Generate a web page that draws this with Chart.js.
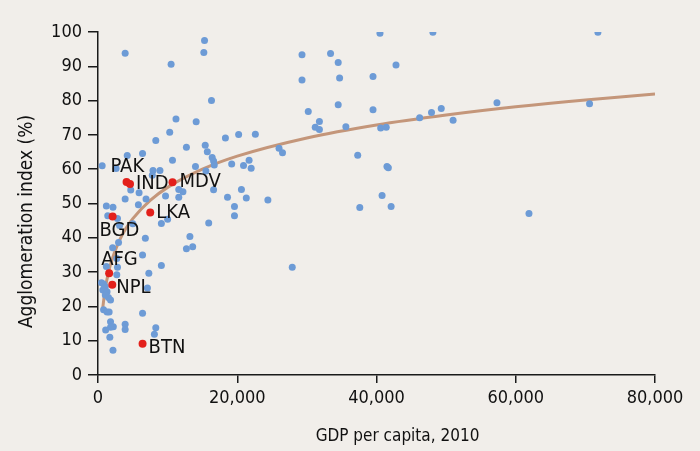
<!DOCTYPE html>
<html>
<head>
<meta charset="utf-8">
<title>Agglomeration index vs GDP per capita</title>
<script src="https://cdn.jsdelivr.net/npm/chart.js@4/dist/chart.umd.min.js"></script>
<style>
  body { margin: 0; background: #f1eeea; }
  #chart-wrap { width: 700px; height: 451px; }
</style>
</head>
<body>
<div id="chart-wrap">
  <canvas id="my-chart" width="700" height="451"></canvas>
</div>
<script>
'use strict';

// *********** DATA ****************

// other countries (GDP per capita, agglomeration index %)
let blueGdp = [
  3900, 15300, 15200, 10500, 16300, 11200, 14100, 10300, 8300, 12700,
  18300, 20200, 22600, 4200, 6400, 600, 2600, 10700, 15400, 15700,
  16400, 16600, 16700, 14000, 19200, 20900, 21700, 22000, 7900, 8900,
  7800, 15500, 4700, 5900, 12200, 11600, 9700, 11600, 16600, 18600,
  20600, 21300, 19600, 19600, 3900, 6900, 1200, 2150, 5800, 1400,
  2800, 5000, 3100, 9100, 10000, 15900, 6800, 13200, 13600, 12700,
  2950, 2100, 6400, 9100, 1200, 2800, 2700, 2700, 7300, 500,
  800, 1050, 700, 1300, 1050, 1500, 1800, 7100, 800, 1300,
  1600, 6400, 1800, 2200, 1800, 1100, 3900, 3900, 8300, 8100,
  1700, 2150,
  29300, 33400, 34500, 40500, 48100, 42800, 29300, 34700, 39500, 34500,
  39500, 30200, 31800, 31200, 31800, 35600, 40600, 41400, 46200, 47900,
  49300, 51000, 57300, 70600, 71800, 26000, 26500, 37300, 41500, 41700,
  24400, 40800, 37600, 42100, 27900, 61900
];
let blueAgg = [
  93.8, 97.5, 94.0, 90.6, 80.0, 74.6, 73.8, 70.8, 68.4, 66.4,
  69.1, 70.1, 70.2, 64.0, 64.6, 61.0, 60.2, 62.6, 67.0, 65.1,
  63.4, 62.4, 61.2, 60.8, 61.5, 61.1, 62.6, 60.3, 59.6, 59.6,
  58.2, 59.5, 53.9, 53.1, 53.4, 54.1, 52.2, 51.8, 54.0, 51.8,
  54.1, 51.6, 49.1, 46.4, 51.3, 51.3, 49.3, 48.9, 49.6, 46.4,
  45.6, 44.1, 43.6, 44.2, 45.4, 44.3, 39.9, 40.4, 37.4, 36.8,
  38.6, 37.1, 35.0, 31.9, 31.6, 31.4, 34.0, 29.2, 29.7, 26.9,
  26.5, 25.7, 24.8, 24.3, 23.3, 22.6, 21.9, 25.4, 19.0, 18.4,
  18.4, 18.0, 15.5, 14.1, 13.9, 13.1, 14.8, 13.3, 13.8, 11.9,
  11.0, 7.2,
  93.4, 93.7, 91.1, 99.6, 99.9, 90.4, 86.0, 86.6, 87.0, 78.8,
  77.3, 76.8, 73.9, 72.2, 71.6, 72.4, 72.0, 72.2, 75.0, 76.5,
  77.7, 74.3, 79.4, 79.1, 99.9, 66.1, 64.8, 64.1, 60.8, 60.4,
  51.0, 52.3, 48.8, 49.1, 31.4, 47.1
];

// south asia, highlighted
let southAsiaNames = ['PAK', 'IND', 'MDV', 'LKA', 'BGD', 'AFG', 'NPL', 'BTN'];
let southAsiaGdp = [4100, 4600, 10700, 7500, 2100, 1600, 2050, 6400];
let southAsiaAgg = [56.3, 55.7, 56.2, 47.4, 46.2, 29.7, 26.3, 9.1];

// trend line
let trendGdp = [650, 1000, 1500, 2000, 3000, 4000, 5000, 7500, 10000, 15000, 20000, 30000, 40000, 50000, 60000, 70000, 80000];
let trendAgg = [19.0, 24.6, 29.9, 33.6, 38.9, 42.7, 45.6, 50.9, 54.7, 60.0, 63.8, 69.1, 72.9, 75.8, 78.2, 80.2, 81.9];

// axis ticks and titles
let xTicks = [0, 20000, 40000, 60000, 80000];
let yTicks = [0, 10, 20, 30, 40, 50, 60, 70, 80, 90, 100];
let xTitle = 'GDP per capita, 2010';
let yTitle = 'Agglomeration index (%)';

// label nudges (px from the dot), text is left aligned
let labelNudge = [[-16, -15], [6, 0], [7, 0], [6, 0], [-13, 14], [-8, -13], [4, 3], [6, 4]];

// *********** HELPERS ****************

function toPoints(xs, ys) {
  let pts = [];
  for (let i = 0; i < xs.length; i++) {
    pts.push({ x: xs[i], y: ys[i] });
  }
  return pts;
}

let fontFamily = '"DejaVu Sans Condensed", "Liberation Sans", sans-serif';
let axisColor = '#1a1a1a';

// draws the country codes next to the red dots
let codeLabels = {
  id: 'codeLabels',
  afterDatasetsDraw(chart) {
    let meta = chart.getDatasetMeta(0);
    let ctx = chart.ctx;
    ctx.save();
    ctx.font = '20px ' + fontFamily;
    ctx.fillStyle = '#111';
    ctx.textAlign = 'left';
    ctx.textBaseline = 'middle';
    for (let i = 0; i < meta.data.length; i++) {
      let el = meta.data[i];
      ctx.fillText(southAsiaNames[i], el.x + labelNudge[i][0], el.y + labelNudge[i][1]);
    }
    ctx.restore();
  }
};

// axis titles, sitting a bit off the middle like the original
let axisTitles = {
  id: 'axisTitles',
  afterDraw(chart) {
    let ctx = chart.ctx;
    let area = chart.chartArea;
    ctx.save();
    ctx.fillStyle = '#111';
    ctx.textAlign = 'center';
    ctx.textBaseline = 'middle';

    ctx.font = '17px ' + fontFamily;
    ctx.fillText(xTitle, (area.left + area.right) / 2 + 21, chart.height - 14);

    ctx.font = '19px ' + fontFamily;
    ctx.translate(27, (area.top + area.bottom) / 2 + 18);
    ctx.rotate(-Math.PI / 2);
    ctx.fillText(yTitle, 0, 0);
    ctx.restore();
  }
};

// *********** CHART ****************

let ctx = document.getElementById('my-chart').getContext('2d');

let myChartObj = {
  type: 'scatter',
  data: {
    datasets: [
      {
        label: 'South Asia',
        data: toPoints(southAsiaGdp, southAsiaAgg),
        backgroundColor: '#e3201b',
        borderWidth: 0,
        pointRadius: 4,
        order: 1
      },
      {
        label: 'Other countries',
        data: toPoints(blueGdp, blueAgg),
        backgroundColor: '#6d9bd6',
        borderWidth: 0,
        pointRadius: 3.5,
        order: 2
      },
      {
        label: 'Trend',
        data: toPoints(trendGdp, trendAgg),
        showLine: true,
        borderColor: '#c4967a',
        borderWidth: 3,
        pointRadius: 0,
        cubicInterpolationMode: 'monotone',
        fill: false,
        order: 3
      }
    ]
  },
  options: {
    responsive: false,
    animation: false,
    layout: {
      padding: { top: 32, right: 45, bottom: 0, left: 0 }
    },
    plugins: {
      legend: { display: false },
      tooltip: { enabled: false }
    },
    scales: {
      x: {
        type: 'linear',
        min: 0,
        max: 80000,
        afterBuildTicks: function (scale) {
          scale.ticks = xTicks.map(function (v) { return { value: v }; });
        },
        afterFit: function (scale) {
          scale.height = 76;
        },
        grid: {
          display: true,
          drawOnChartArea: false,
          drawTicks: true,
          tickLength: 8,
          color: axisColor,
          lineWidth: 1.5
        },
        border: { display: true, color: axisColor, width: 1.5 },
        ticks: {
          padding: 5,
          color: '#111',
          font: { family: fontFamily, size: 18 },
          maxRotation: 0
        }
      },
      y: {
        type: 'linear',
        min: 0,
        max: 100,
        afterBuildTicks: function (scale) {
          scale.ticks = yTicks.map(function (v) { return { value: v }; });
        },
        afterFit: function (scale) {
          scale.width = 98;
        },
        grid: {
          display: true,
          drawOnChartArea: false,
          drawTicks: true,
          tickLength: 10,
          color: axisColor,
          lineWidth: 1.5
        },
        border: { display: true, color: axisColor, width: 1.5 },
        ticks: {
          padding: 6,
          color: '#111',
          font: { family: fontFamily, size: 18 }
        }
      }
    }
  },
  plugins: [codeLabels, axisTitles]
};

new Chart(ctx, myChartObj);
</script>
</body>
</html>
